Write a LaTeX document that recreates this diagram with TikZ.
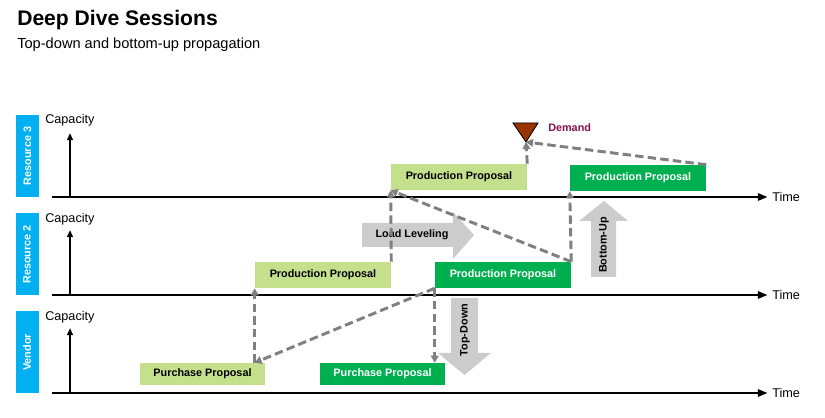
\documentclass[tikz,border=0pt]{standalone}
\usepackage{fontspec}
\setmainfont{Liberation Sans}
\usetikzlibrary{arrows.meta}
\definecolor{plangreen}{RGB}{196,224,141}
\definecolor{firmgreen}{RGB}{0,176,80}
\definecolor{sideblue}{RGB}{0,176,240}
\definecolor{biggray}{RGB}{204,204,204}
\definecolor{dashgray}{RGB}{128,128,128}
\definecolor{demandbrown}{RGB}{153,51,0}
\definecolor{demandtext}{RGB}{128,20,80}
\begin{document}
\begin{tikzpicture}[x=0.025cm, y=-0.025cm,
    boxfont/.style={font=\fontsize{7.7}{9}\selectfont\bfseries},
    prodbox/.style={boxfont, inner sep=0, minimum width=136*0.025cm, minimum height=26*0.025cm},
    purchbox/.style={boxfont, inner sep=0, minimum width=125*0.025cm, minimum height=22*0.025cm},
    planned/.style={fill=plangreen, text=black},
    firmed/.style={fill=firmgreen, text=white},
    sidelabel/.style={boxfont, fill=sideblue, text=white, rotate=90, inner sep=0,
        minimum width=82*0.025cm, minimum height=23*0.025cm},
    axislabel/.style={font=\fontsize{9}{11}\selectfont, inner sep=0, anchor=west},
    timeaxis/.style={line width=2pt, shorten >=3pt, -{Triangle[length=7pt,width=5pt]}},
    capaxis/.style={line width=1.4pt, -{Triangle[length=5pt,width=4pt]}},
    flow/.style={dashgray, line width=2.1pt, dash pattern=on 6pt off 3pt,
        -{Triangle[length=5pt,width=5.5pt]}}]
    \useasboundingbox (0,0) rectangle (825,418);

    % Title
    \node[anchor=base west, inner sep=0, font=\fontsize{15}{18}\selectfont\bfseries] (title) at (17,26) {Deep Dive Sessions};
    \node[anchor=base west, inner sep=0, font=\fontsize{10.4}{12}\selectfont] (subtitle) at (17,49) {Top-down and bottom-up propagation};

    % Side labels
    \node[sidelabel] (res3) at (27.5,156) {Resource 3};
    \node[sidelabel] (res2) at (27,254.5) {Resource 2};
    \node[sidelabel] (vend) at (27,352.5) {Vendor};

    % Resource 3 axes
    \node[axislabel] (cap3) at (45,120) {Capacity};
    \node[axislabel] (time3) at (772,197) {Time};
    \coordinate (s3) at (52,197);
    \coordinate (o3) at (70,197);
    \coordinate (c3) at (70,133);
    \draw[timeaxis] (s3) -- (time3);
    \draw[capaxis] (o3) -- (c3);

    % Resource 2 axes
    \node[axislabel] (cap2) at (45,219) {Capacity};
    \node[axislabel] (time2) at (772,295) {Time};
    \coordinate (s2) at (52,295);
    \coordinate (o2) at (70,295);
    \coordinate (c2) at (70,230);
    \draw[timeaxis] (s2) -- (time2);
    \draw[capaxis] (o2) -- (c2);

    % Vendor axes
    \node[axislabel] (capv) at (45,317) {Capacity};
    \node[axislabel] (timev) at (772,393) {Time};
    \coordinate (sv) at (52,393);
    \coordinate (ov) at (70,393);
    \coordinate (cv) at (70,328);
    \draw[timeaxis] (sv) -- (timev);
    \draw[capaxis] (ov) -- (cv);

    % Demand
    \draw[fill=demandbrown, line width=0.6pt] (513,123) -- (538,123) -- (526,142) -- cycle;
    \coordinate (demand) at (526,142);
    \node[boxfont, text=demandtext, anchor=west, inner sep=0] (demandlabel) at (548,128) {Demand};

    % Proposals
    \node[prodbox, planned] (r3plan) at (459,177) {Production Proposal};
    \node[prodbox, firmed] (r3firm) at (638,178) {Production Proposal};
    \node[prodbox, planned] (r2plan) at (323,275) {Production Proposal};
    \node[prodbox, firmed] (r2firm) at (503,275) {Production Proposal};
    \node[purchbox, planned] (vplan) at (202.5,374) {Purchase Proposal};
    \node[purchbox, firmed] (vfirm) at (382.5,374) {Purchase Proposal};

    % Big gray arrows
    \fill[biggray] (362,223) -- (453,223) -- (453,212) -- (474,235) -- (453,259) -- (453,247) -- (362,247) -- cycle;
    \node[boxfont] (leveling) at (412,235) {Load Leveling};
    \fill[biggray] (591,277) -- (591,221) -- (579,221) -- (604,201) -- (628,221) -- (616,221) -- (616,277) -- cycle;
    \node[boxfont, rotate=90] (bottomup) at (604,245) {Bottom-Up};
    \fill[biggray] (451,298) -- (478,298) -- (478,353) -- (491,353) -- (464.5,375) -- (438,353) -- (451,353) -- cycle;
    \node[boxfont, rotate=90] (topdown) at (465,330) {Top-Down};

    % Propagation
    \draw[flow] (r3firm.north east) -- (demand);
    \draw[flow] (r3plan.north east) -- (demand);
    \draw[flow] (r2plan.north east) -- (r3plan.south west);
    \draw[flow] (r2firm.north east) -- (r3plan.south west);
    \draw[flow] (r2firm.north east) -- (r3firm.south west);
    \coordinate (vtop) at (r2plan.south west |- vplan.north);
    \coordinate (vfirmtop) at (r2firm.south west |- vfirm.north);
    \draw[flow] (r2firm.south west) -- (vtop);
    \draw[flow] (vtop) -- (r2plan.south west);
    \draw[flow] (r2firm.south west) -- (vfirmtop);
\end{tikzpicture}
\end{document}
